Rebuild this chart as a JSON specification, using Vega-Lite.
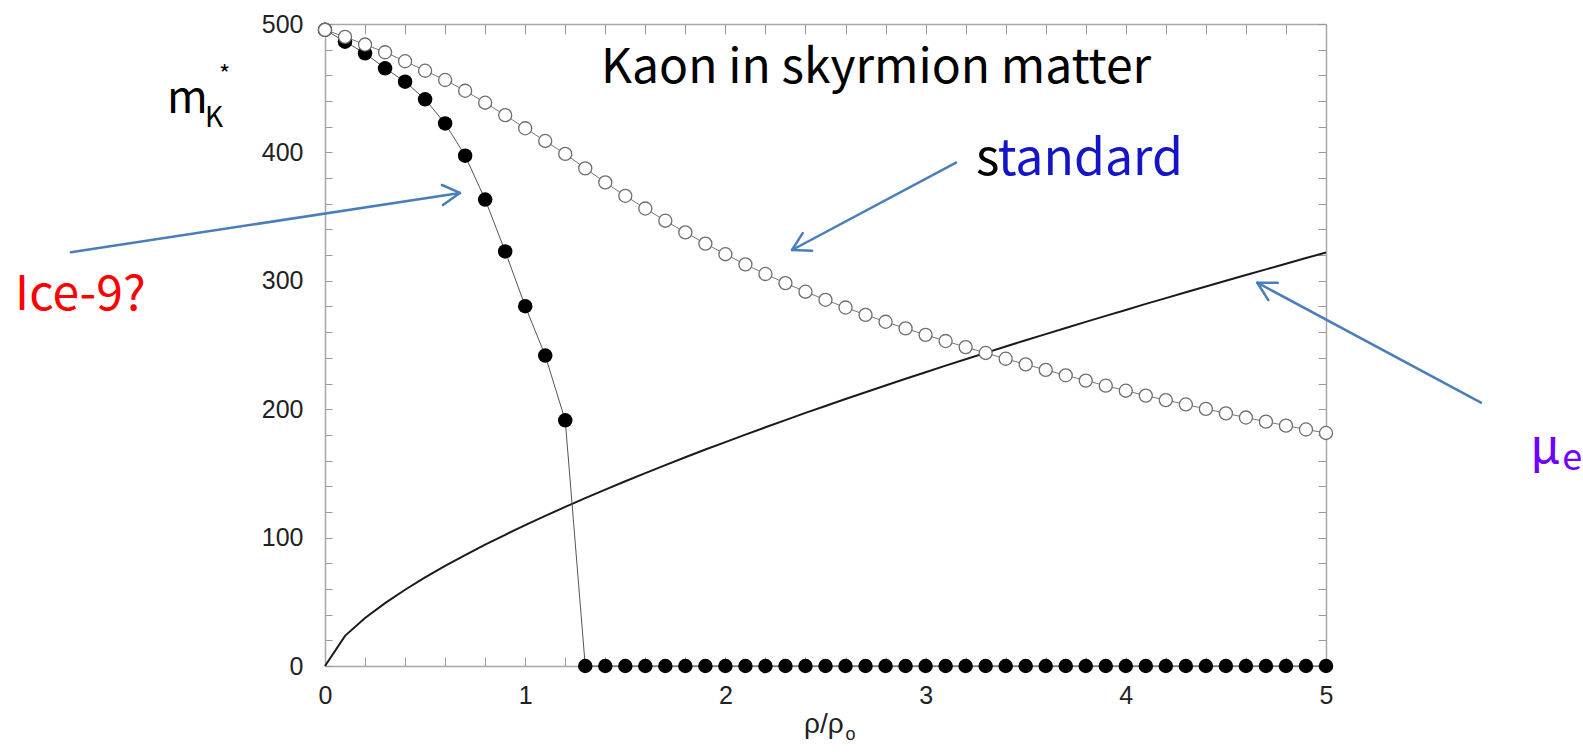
{
  "$schema": "https://vega.github.io/schema/vega-lite/v6.json",
  "width": 1001,
  "height": 642,
  "autosize": {"type": "none"},
  "padding": {"left": 325, "top": 24, "right": 257, "bottom": 86},
  "background": "white",
  "config": {
    "view": {"stroke": null},
    "axis": {
      "grid": false,
      "title": null,
      "domainColor": "#a8a8a8",
      "domainWidth": 1.5,
      "tickColor": "#9a9a9a",
      "tickWidth": 1,
      "labelFont": "Liberation Sans",
      "labelFontSize": 25,
      "labelColor": "#222222",
      "labelOverlap": false,
      "labelFlush": false,
      "labelBound": false
    }
  },
  "datasets": {
    "standard": [
      {"x": 0, "y": 495.5}, {"x": 0.1, "y": 490}, {"x": 0.2, "y": 484}, {"x": 0.3, "y": 478}, {"x": 0.4, "y": 471},
      {"x": 0.5, "y": 463.6}, {"x": 0.6, "y": 456.4}, {"x": 0.7, "y": 448}, {"x": 0.8, "y": 438.7}, {"x": 0.9, "y": 429},
      {"x": 1.0, "y": 418.8}, {"x": 1.1, "y": 408.9}, {"x": 1.2, "y": 398.8}, {"x": 1.3, "y": 387.6}, {"x": 1.4, "y": 376.6},
      {"x": 1.5, "y": 366.2}, {"x": 1.6, "y": 356.3}, {"x": 1.7, "y": 346.8}, {"x": 1.8, "y": 337.7}, {"x": 1.9, "y": 329.0},
      {"x": 2.0, "y": 320.7}, {"x": 2.1, "y": 312.8}, {"x": 2.2, "y": 305.3}, {"x": 2.3, "y": 298.2}, {"x": 2.4, "y": 291.5},
      {"x": 2.5, "y": 285.2}, {"x": 2.6, "y": 279.2}, {"x": 2.7, "y": 273.5}, {"x": 2.8, "y": 268.1}, {"x": 2.9, "y": 262.9},
      {"x": 3.0, "y": 257.9}, {"x": 3.1, "y": 253.1}, {"x": 3.2, "y": 248.4}, {"x": 3.3, "y": 243.8}, {"x": 3.4, "y": 239.3},
      {"x": 3.5, "y": 234.9}, {"x": 3.6, "y": 230.6}, {"x": 3.7, "y": 226.4}, {"x": 3.8, "y": 222.3}, {"x": 3.9, "y": 218.3},
      {"x": 4.0, "y": 214.4}, {"x": 4.1, "y": 210.6}, {"x": 4.2, "y": 207.1}, {"x": 4.3, "y": 203.7}, {"x": 4.4, "y": 200.2},
      {"x": 4.5, "y": 196.8}, {"x": 4.6, "y": 193.5}, {"x": 4.7, "y": 190.3}, {"x": 4.8, "y": 187.2}, {"x": 4.9, "y": 184.2},
      {"x": 5.0, "y": 181.5}
    ],
    "ice9": [
      {"x": 0, "y": 495.5}, {"x": 0.1, "y": 486.2}, {"x": 0.2, "y": 477.2}, {"x": 0.3, "y": 465.5}, {"x": 0.4, "y": 455.1},
      {"x": 0.5, "y": 441.3}, {"x": 0.6, "y": 422.6}, {"x": 0.7, "y": 397.4}, {"x": 0.8, "y": 363.3}, {"x": 0.9, "y": 322.9},
      {"x": 1.0, "y": 280.2}, {"x": 1.1, "y": 241.8}, {"x": 1.2, "y": 191.3}, {"x": 1.3, "y": 0}, {"x": 1.4, "y": 0},
      {"x": 1.5, "y": 0}, {"x": 1.6, "y": 0}, {"x": 1.7, "y": 0}, {"x": 1.8, "y": 0}, {"x": 1.9, "y": 0},
      {"x": 2.0, "y": 0}, {"x": 2.1, "y": 0}, {"x": 2.2, "y": 0}, {"x": 2.3, "y": 0}, {"x": 2.4, "y": 0},
      {"x": 2.5, "y": 0}, {"x": 2.6, "y": 0}, {"x": 2.7, "y": 0}, {"x": 2.8, "y": 0}, {"x": 2.9, "y": 0},
      {"x": 3.0, "y": 0}, {"x": 3.1, "y": 0}, {"x": 3.2, "y": 0}, {"x": 3.3, "y": 0}, {"x": 3.4, "y": 0},
      {"x": 3.5, "y": 0}, {"x": 3.6, "y": 0}, {"x": 3.7, "y": 0}, {"x": 3.8, "y": 0}, {"x": 3.9, "y": 0},
      {"x": 4.0, "y": 0}, {"x": 4.1, "y": 0}, {"x": 4.2, "y": 0}, {"x": 4.3, "y": 0}, {"x": 4.4, "y": 0},
      {"x": 4.5, "y": 0}, {"x": 4.6, "y": 0}, {"x": 4.7, "y": 0}, {"x": 4.8, "y": 0}, {"x": 4.9, "y": 0},
      {"x": 5.0, "y": 0}
    ],
    "mue": [
      {"x": 0, "y": 0}, {"x": 0.1, "y": 23.5}, {"x": 0.2, "y": 37.4}, {"x": 0.3, "y": 49.0}, {"x": 0.4, "y": 59.4},
      {"x": 0.5, "y": 69.0}, {"x": 0.6, "y": 77.9}, {"x": 0.7, "y": 86.4}, {"x": 0.8, "y": 94.5}, {"x": 0.9, "y": 102.2},
      {"x": 1.0, "y": 109.7}, {"x": 1.1, "y": 116.9}, {"x": 1.2, "y": 123.9}, {"x": 1.3, "y": 130.8}, {"x": 1.4, "y": 137.4},
      {"x": 1.5, "y": 143.9}, {"x": 1.6, "y": 150.2}, {"x": 1.7, "y": 156.5}, {"x": 1.8, "y": 162.6}, {"x": 1.9, "y": 168.6},
      {"x": 2.0, "y": 174.4}, {"x": 2.1, "y": 180.2}, {"x": 2.2, "y": 185.9}, {"x": 2.3, "y": 191.5}, {"x": 2.4, "y": 197.1},
      {"x": 2.5, "y": 202.5}, {"x": 2.6, "y": 207.9}, {"x": 2.7, "y": 213.2}, {"x": 2.8, "y": 218.5}, {"x": 2.9, "y": 223.7},
      {"x": 3.0, "y": 228.8}, {"x": 3.1, "y": 233.9}, {"x": 3.2, "y": 238.9}, {"x": 3.3, "y": 243.9}, {"x": 3.4, "y": 248.8},
      {"x": 3.5, "y": 253.7}, {"x": 3.6, "y": 258.5}, {"x": 3.7, "y": 263.3}, {"x": 3.8, "y": 268.0}, {"x": 3.9, "y": 272.7},
      {"x": 4.0, "y": 277.3}, {"x": 4.1, "y": 282.0}, {"x": 4.2, "y": 286.5}, {"x": 4.3, "y": 291.1}, {"x": 4.4, "y": 295.6},
      {"x": 4.5, "y": 300.1}, {"x": 4.6, "y": 304.5}, {"x": 4.7, "y": 308.9}, {"x": 4.8, "y": 313.3}, {"x": 4.9, "y": 317.7},
      {"x": 5.0, "y": 322.0}
    ],
    "arrows": [
      {"x": -1.269, "y": 322.2, "x2": 0.674, "y2": 368.4},
      {"x": 0.674, "y": 368.4, "x2": 0.584, "y2": 374.6},
      {"x": 0.674, "y": 368.4, "x2": 0.589, "y2": 359.0},
      {"x": 3.152, "y": 392.0, "x2": 2.333, "y2": 324.0},
      {"x": 2.333, "y": 324.0, "x2": 2.433, "y2": 323.4},
      {"x": 2.333, "y": 324.0, "x2": 2.386, "y2": 337.1},
      {"x": 5.774, "y": 205.1, "x2": 4.657, "y2": 298.5},
      {"x": 4.657, "y": 298.5, "x2": 4.759, "y2": 298.5},
      {"x": 4.657, "y": 298.5, "x2": 4.712, "y2": 285.0}
    ]
  },
  "encoding": {
    "x": {"field": "x", "type": "quantitative", "scale": {"domain": [0, 5], "nice": false, "zero": false}, "axis": null},
    "y": {"field": "y", "type": "quantitative", "scale": {"domain": [0, 500], "nice": false, "zero": false}, "axis": null}
  },
  "layer": [
    {
      "data": {"name": "mue"},
      "mark": {"type": "line", "color": "#1a1a1a", "strokeWidth": 2},
      "encoding": {
        "x": {"field": "x", "type": "quantitative", "scale": {"domain": [0, 5], "nice": false, "zero": false},
          "axis": {"orient": "bottom", "values": [0,0.2,0.4,0.6,0.8,1,1.2,1.4,1.6,1.8,2,2.2,2.4,2.6,2.8,3,3.2,3.4,3.6,3.8,4,4.2,4.4,4.6,4.8,5],
            "labelExpr": "datum.value == round(datum.value) ? format(datum.value, 'd') : ''",
            "tickSize": -9, "labelPadding": 26}},
        "y": {"field": "y", "type": "quantitative", "scale": {"domain": [0, 500], "nice": false, "zero": false},
          "axis": {"orient": "left", "values": [0,20,40,60,80,100,120,140,160,180,200,220,240,260,280,300,320,340,360,380,400,420,440,460,480,500],
            "labelExpr": "datum.value % 100 == 0 ? format(datum.value, 'd') : ''",
            "tickSize": -7, "labelPadding": 29}}
      }
    },
    {
      "data": {"name": "ice9"},
      "mark": {"type": "line", "color": "#555555", "strokeWidth": 1},
      "encoding": {
        "x": {"field": "x", "type": "quantitative", "scale": {"domain": [0, 5], "nice": false, "zero": false},
          "axis": {"orient": "top", "values": [0,0.2,0.4,0.6,0.8,1,1.2,1.4,1.6,1.8,2,2.2,2.4,2.6,2.8,3,3.2,3.4,3.6,3.8,4,4.2,4.4,4.6,4.8,5],
            "labels": false, "tickSize": -10}},
        "y": {"field": "y", "type": "quantitative", "scale": {"domain": [0, 500], "nice": false, "zero": false},
          "axis": {"orient": "right", "values": [0,20,40,60,80,100,120,140,160,180,200,220,240,260,280,300,320,340,360,380,400,420,440,460,480,500],
            "labels": false, "tickSize": -8}}
      }
    },
    {
      "data": {"name": "ice9"},
      "mark": {"type": "point", "shape": "circle", "filled": true, "color": "#000000", "opacity": 1, "size": 210}
    },
    {
      "data": {"name": "standard"},
      "mark": {"type": "line", "color": "#777777", "strokeWidth": 1}
    },
    {
      "data": {"name": "standard"},
      "mark": {"type": "point", "shape": "circle", "filled": false, "fill": "#ffffff", "fillOpacity": 1, "stroke": "#6e6e6e", "strokeWidth": 1.3, "opacity": 1, "size": 170}
    },
    {
      "data": {"name": "arrows"},
      "mark": {"type": "rule", "color": "#4a7ebb", "strokeWidth": 2.5, "strokeCap": "round"},
      "encoding": {
        "x2": {"field": "x2"},
        "y2": {"field": "y2"}
      }
    },
    {
      "data": {"values": [{"x": 1.379, "y": 453.8, "label": "Kaon in skyrmion matter"}]},
      "mark": {"type": "text", "align": "left", "baseline": "alphabetic", "font": "Noto Sans CJK KR", "fontSize": 48, "color": "#000000"},
      "encoding": {"text": {"field": "label"}}
    },
    {
      "data": {"values": [{"x": 3.252, "y": 382.4, "label": "s"}]},
      "mark": {"type": "text", "align": "left", "baseline": "alphabetic", "font": "Noto Sans CJK KR", "fontSize": 50, "color": "#000000"},
      "encoding": {"text": {"field": "label"}}
    },
    {
      "data": {"values": [{"x": 3.36, "y": 382.4, "label": "tandard"}]},
      "mark": {"type": "text", "align": "left", "baseline": "alphabetic", "font": "Noto Sans CJK KR", "fontSize": 50, "color": "#1414c8"},
      "encoding": {"text": {"field": "label"}}
    },
    {
      "data": {"values": [{"x": -1.548, "y": 277.3, "label": "Ice-9?"}]},
      "mark": {"type": "text", "align": "left", "baseline": "alphabetic", "font": "Noto Sans CJK KR", "fontSize": 48, "color": "#ff0000"},
      "encoding": {"text": {"field": "label"}}
    },
    {
      "data": {"values": [{"x": 6.02, "y": 158.1, "label": "μ"}]},
      "mark": {"type": "text", "align": "left", "baseline": "alphabetic", "font": "Noto Sans CJK KR", "fontSize": 48, "color": "#7000ff"},
      "encoding": {"text": {"field": "label"}}
    },
    {
      "data": {"values": [{"x": 6.18, "y": 152.6, "label": "e"}]},
      "mark": {"type": "text", "align": "left", "baseline": "alphabetic", "font": "Noto Sans CJK KR", "fontSize": 36, "color": "#7000ff"},
      "encoding": {"text": {"field": "label"}}
    },
    {
      "data": {"values": [{"x": -0.789, "y": 430.7, "label": "m"}]},
      "mark": {"type": "text", "align": "left", "baseline": "alphabetic", "font": "Noto Sans CJK KR", "fontSize": 44, "color": "#000000"},
      "encoding": {"text": {"field": "label"}}
    },
    {
      "data": {"values": [{"x": -0.6, "y": 419.8, "label": "K"}]},
      "mark": {"type": "text", "align": "left", "baseline": "alphabetic", "font": "Noto Sans CJK KR", "fontSize": 28, "color": "#000000"},
      "encoding": {"text": {"field": "label"}}
    },
    {
      "data": {"values": [{"x": -0.529, "y": 468.8, "label": "*"}]},
      "mark": {"type": "text", "align": "left", "baseline": "top", "font": "Noto Sans CJK KR", "fontSize": 24, "color": "#000000"},
      "encoding": {"text": {"field": "label"}}
    },
    {
      "data": {"values": [{"x": 2.393, "y": -52.0, "label": "ρ/ρ"}]},
      "mark": {"type": "text", "align": "left", "baseline": "alphabetic", "font": "Liberation Sans", "fontSize": 28, "color": "#222222"},
      "encoding": {"text": {"field": "label"}}
    },
    {
      "data": {"values": [{"x": 2.6, "y": -57.5, "label": "o"}]},
      "mark": {"type": "text", "align": "left", "baseline": "alphabetic", "font": "Liberation Sans", "fontSize": 18, "color": "#222222"},
      "encoding": {"text": {"field": "label"}}
    }
  ],
  "resolve": {"axis": {"x": "independent", "y": "independent"}}
}
